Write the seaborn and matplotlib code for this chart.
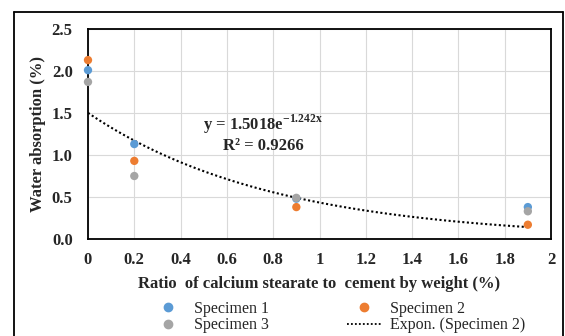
import numpy as np
import pandas as pd
import seaborn as sns
import matplotlib.pyplot as plt
from matplotlib.lines import Line2D

# data
ratio = [0, 0.2, 0.9, 1.9]
spec1 = [2.01, 1.13, 0.48, 0.38]
spec2 = [2.13, 0.93, 0.38, 0.17]
spec3 = [1.87, 0.75, 0.49, 0.33]
fit_a, fit_b = 1.5018, -1.242

df = pd.DataFrame({'Ratio': ratio * 3,
                   'Water': spec1 + spec2 + spec3,
                   'Series': ['Specimen 1'] * 4 + ['Specimen 2'] * 4 + ['Specimen 3'] * 4})

sns.set_style("white")
plt.rcParams['font.family'] = ['Liberation Serif', 'DejaVu Serif']
plt.rcParams['mathtext.fontset'] = 'custom'
plt.rcParams['mathtext.rm'] = 'Liberation Serif'
plt.rcParams['mathtext.bf'] = 'Liberation Serif:bold'

fig = plt.figure(figsize=(5.65, 3.36), dpi=100)
ax = fig.add_axes([88 / 565, 1 - 239 / 336, (551 - 88) / 565, (239 - 29) / 336])

colors = {'Specimen 1': '#5B9BD5', 'Specimen 2': '#ED7D31', 'Specimen 3': '#A5A5A5'}
sns.scatterplot(data=df, x='Ratio', y='Water', hue='Series', palette=colors,
                s=36, edgecolor='none', ax=ax, legend=False, zorder=3, clip_on=False)

xs = np.linspace(0, max(ratio), 100)
ax.plot(xs, fit_a * np.exp(fit_b * xs), color='black', linestyle=(0, (1, 1.2)),
        linewidth=1.5, zorder=2)

ax.set_xlim(0, 2)
ax.set_ylim(0, 2.5)
ax.set_xticks(np.arange(0, 2.01, 0.2))
ax.set_xticklabels(['0', '0.2', '0.4', '0.6', '0.8', '1', '1.2', '1.4', '1.6', '1.8', '2'])
ax.set_yticks(np.arange(0, 2.51, 0.5))
ax.set_yticklabels(['0.0', '0.5', '1.0', '1.5', '2.0', '2.5'])
ax.tick_params(labelsize=12, length=0)
ax.tick_params(axis='x', pad=9)
ax.tick_params(axis='y', pad=11)
for lab in ax.get_xticklabels() + ax.get_yticklabels():
    lab.set_fontweight('bold')
ax.grid(True, color='#D9D9D9', linewidth=0.8)
for s in ax.spines.values():
    s.set_color('black')
    s.set_linewidth(1.3)

ax.set_xlabel('Ratio  of calcium stearate to  cement by weight (%)', fontsize=12,
              fontweight='bold', labelpad=6)
ax.set_ylabel('Water absorption (%)', fontsize=12, fontweight='bold', labelpad=4)

ax.text(0.756, 1.36, r'y = 1.5018e$^{\mathbf{-1.242x}}$', fontsize=12, fontweight='bold',
        ha='center', va='center')
ax.text(0.756, 1.11, 'R² = 0.9266', fontsize=12, fontweight='bold', ha='center', va='center')

handles = [Line2D([], [], marker='o', linestyle='none', color=colors['Specimen 1'], markersize=6),
           Line2D([], [], marker='o', linestyle='none', color=colors['Specimen 3'], markersize=6),
           Line2D([], [], marker='o', linestyle='none', color=colors['Specimen 2'], markersize=6),
           Line2D([], [], color='black', linestyle=(0, (1, 1.2)), linewidth=1.3)]
labels = ['Specimen 1', 'Specimen 3', 'Specimen 2', 'Expon. (Specimen 2)']
fig.legend(handles, labels, ncol=2, loc='center', bbox_to_anchor=(0.598, 1 - 317 / 336),
           frameon=False, fontsize=11.5, columnspacing=4.9, handletextpad=0.5,
           labelspacing=0.05, handlelength=2.2, borderpad=0)

# outer chart border
fig.add_artist(Line2D([14 / 565, 14 / 565], [0, 1 - 12 / 336], color='black', lw=1.3))
fig.add_artist(Line2D([14 / 565, 563 / 565], [1 - 12 / 336, 1 - 12 / 336], color='black', lw=1.3))
fig.add_artist(Line2D([563 / 565, 563 / 565], [0, 1 - 12 / 336], color='black', lw=1.3))

plt.savefig('out.png', dpi=100)
